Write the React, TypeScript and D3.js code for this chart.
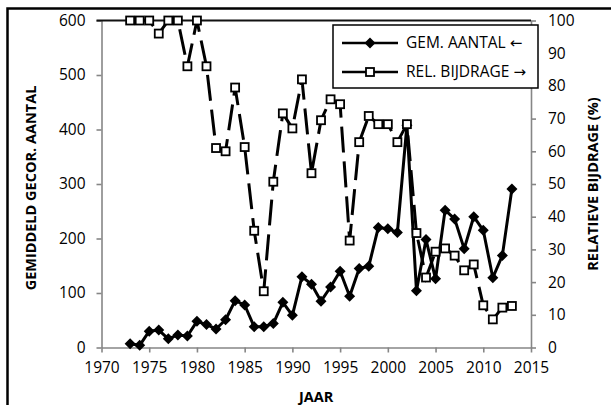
import { useEffect, useRef } from "react";
import * as d3 from "d3";

const years = [
  1973, 1974, 1975, 1976, 1977, 1978, 1979, 1980, 1981, 1982, 1983, 1984, 1985, 1986,
  1987, 1988, 1989, 1990, 1991, 1992, 1993, 1994, 1995, 1996, 1997, 1998, 1999, 2000,
  2001, 2002, 2003, 2004, 2005, 2006, 2007, 2008, 2009, 2010, 2011, 2012, 2013,
];

// GEM. AANTAL (left axis)
const gemAantal = [
  7, 4, 30, 32, 16, 23, 21, 48, 42, 34, 51, 86, 78, 38, 38, 44, 83, 59, 130, 116, 85,
  111, 140, 94, 145, 149, 220, 218, 211, 408, 104, 198, 126, 252, 236, 181, 240, 215,
  128, 169, 291,
];

// REL. BIJDRAGE in % (right axis)
const relBijdrage = [
  100, 100, 100, 96, 100, 100, 86, 100, 86, 61, 60, 79.5, 61.3, 35.7, 17.2, 50.7, 71.6,
  67, 82, 53.3, 69.5, 75.9, 74.4, 32.7, 62.8, 70.8, 68.3, 68.3, 62.8, 68.3, 35, 21.4,
  29.3, 30.3, 28.1, 23.6, 25.4, 12.9, 8.6, 12.2, 12.7,
];

const xTicks = [1970, 1975, 1980, 1985, 1990, 1995, 2000, 2005, 2010, 2015];
const leftTicks = [0, 100, 200, 300, 400, 500, 600];
const rightTicks = [0, 10, 20, 30, 40, 50, 60, 70, 80, 90, 100];

const legendLabels = ["GEM. AANTAL", "REL. BIJDRAGE"];
const legendArrows = ["\u2190", "\u2192"];

export default function App() {
  const ref = useRef<SVGSVGElement | null>(null);

  useEffect(() => {
    const width = 611;
    const height = 405;
    const font = "'Open Sans', sans-serif";
    const axisGrey = "#868686";

    const svg = d3.select(ref.current);
    svg.selectAll("*").remove();

    const x = d3.scaleLinear().domain([1970, 2015]).range([101.5, 531]);
    const yL = d3.scaleLinear().domain([0, 600]).range([347.5, 20.5]);
    const yR = d3.scaleLinear().domain([0, 100]).range([347.5, 20.5]);

    svg.append("rect").attr("width", width).attr("height", height).attr("fill", "#fff");

    // outer frame (runs off the picture on the right and bottom)
    svg
      .append("rect")
      .attr("x", 7.5)
      .attr("y", 8.5)
      .attr("width", 700)
      .attr("height", 500)
      .attr("fill", "none")
      .attr("stroke", "#000")
      .attr("stroke-width", 2.5);

    const styleAxis = (g: any) => {
      g.select(".domain").attr("stroke", axisGrey).attr("stroke-width", 1.6);
      g.selectAll(".tick line").attr("stroke", axisGrey).attr("stroke-width", 1.6);
      g.selectAll(".tick text")
        .attr("fill", "#000")
        .style("font-family", font)
        .style("font-size", "15.5px");
    };

    svg
      .append("g")
      .attr("transform", `translate(0,${yL(0)})`)
      .call(d3.axisBottom(x).tickValues(xTicks).tickFormat(d3.format("d")).tickSize(5).tickSizeOuter(0).tickPadding(9))
      .call((g: any) => styleAxis(g));

    svg
      .append("g")
      .attr("transform", `translate(${x(1970)},0)`)
      .call(d3.axisLeft(yL).tickValues(leftTicks).tickSize(5).tickSizeOuter(0).tickPadding(11))
      .call((g: any) => styleAxis(g));

    svg
      .append("g")
      .attr("transform", `translate(${x(2015)},0)`)
      .call(d3.axisRight(yR).tickValues(rightTicks).tickSize(5).tickSizeOuter(0).tickPadding(12))
      .call((g: any) => styleAxis(g));

    // top line of plot area
    svg
      .append("line")
      .attr("x1", x(1970) - 5)
      .attr("x2", x(2015))
      .attr("y1", yL(600))
      .attr("y2", yL(600))
      .attr("stroke", "#111")
      .attr("stroke-width", 2);

    const gemData = years.map((yr, i) => ({ yr, v: gemAantal[i] }));
    const relData = years.map((yr, i) => ({ yr, v: relBijdrage[i] }));

    const diamond = (cx: number, cy: number, r: number) =>
      `M${cx},${cy - r}L${cx + r},${cy}L${cx},${cy + r}L${cx - r},${cy}Z`;

    // GEM. AANTAL series
    svg
      .append("path")
      .datum(gemData)
      .attr("fill", "none")
      .attr("stroke", "#000")
      .attr("stroke-width", 3)
      .attr("stroke-linejoin", "round")
      .attr("d", d3.line<any>().x((d) => x(d.yr)).y((d) => yL(d.v)));

    svg
      .append("g")
      .selectAll("path")
      .data(gemData)
      .join("path")
      .attr("d", (d) => diamond(x(d.yr), yL(d.v), 5.5))
      .attr("fill", "#000");

    // REL. BIJDRAGE series
    svg
      .append("path")
      .datum(relData)
      .attr("fill", "none")
      .attr("stroke", "#000")
      .attr("stroke-width", 3)
      .attr("stroke-dasharray", "26 9")
      .attr("d", d3.line<any>().x((d) => x(d.yr)).y((d) => yR(d.v)));

    svg
      .append("g")
      .selectAll("rect")
      .data(relData)
      .join("rect")
      .attr("x", (d) => x(d.yr) - 4)
      .attr("y", (d) => yR(d.v) - 4)
      .attr("width", 8)
      .attr("height", 8)
      .attr("fill", "#fff")
      .attr("stroke", "#000")
      .attr("stroke-width", 1.8);

    // axis titles
    svg
      .append("text")
      .attr("transform", `translate(36,188) rotate(-90)`)
      .attr("text-anchor", "middle")
      .style("font-family", font)
      .style("font-weight", "bold")
      .style("font-size", "14.5px")
      .text("GEMIDDELD GECOR. AANTAL");

    svg
      .append("text")
      .attr("transform", `translate(598,184) rotate(-90)`)
      .attr("text-anchor", "middle")
      .style("font-family", font)
      .style("font-weight", "bold")
      .style("font-size", "14.5px")
      .text("RELATIEVE BIJDRAGE (%)");

    svg
      .append("text")
      .attr("x", (x(1970) + x(2015)) / 2)
      .attr("y", 402)
      .attr("text-anchor", "middle")
      .style("font-family", font)
      .style("font-weight", "bold")
      .style("font-size", "14.5px")
      .text("JAAR");

    // legend
    const lg = svg.append("g");
    lg.append("rect")
      .attr("x", 333)
      .attr("y", 25)
      .attr("width", 205)
      .attr("height", 63)
      .attr("fill", "#fff")
      .attr("stroke", "#000")
      .attr("stroke-width", 1.5);

    legendLabels.forEach((label, i) => {
      const cy = 43 + i * 29;
      lg.append("line")
        .attr("x1", 342)
        .attr("x2", 398)
        .attr("y1", cy)
        .attr("y2", cy)
        .attr("stroke", "#000")
        .attr("stroke-width", 2.5);
      if (i === 0) {
        lg.append("path").attr("d", diamond(370, cy, 5.5)).attr("fill", "#000");
      } else {
        lg.append("rect")
          .attr("x", 366)
          .attr("y", cy - 4)
          .attr("width", 8)
          .attr("height", 8)
          .attr("fill", "#fff")
          .attr("stroke", "#000")
          .attr("stroke-width", 1.8);
      }
      const t = lg
        .append("text")
        .attr("x", 406)
        .attr("y", cy)
        .attr("dy", "0.35em")
        .style("font-family", font)
        .style("font-size", "15.5px");
      t.append("tspan").text(label + " ");
      t.append("tspan")
        .style("font-family", "'DejaVu Sans', sans-serif")
        .style("font-size", "15px")
        .text(legendArrows[i]);
    });
  }, []);

  return (
    <svg
      ref={ref}
      width={611}
      height={405}
      style={{ position: "absolute", left: 0, top: 0 }}
    />
  );
}
